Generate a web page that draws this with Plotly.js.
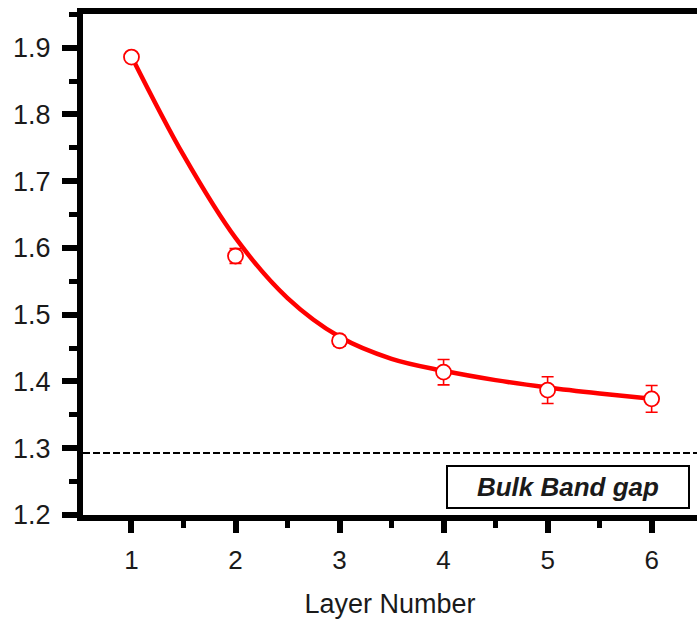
<!DOCTYPE html>
<html>
<head>
<meta charset="utf-8">
<script src="https://cdn.plot.ly/plotly-3.0.1.min.js"></script>
<style>html,body{margin:0;padding:0;background:#fff;}#chart{width:697px;height:628px;}</style>
</head>
<body>
<div id="chart"></div>
<script>
// Measured band gap vs layer number
const layers = [1, 2, 3, 4, 5, 6];
const bandGap = [1.886, 1.588, 1.461, 1.414, 1.387, 1.374];
const bandGapErr = [0.006, 0.011, 0.008, 0.019, 0.020, 0.020];

// Fitted curve
const fitX = [1, 1.5, 2, 2.5, 3, 3.5, 4, 4.5, 5, 5.5, 6];
const fitY = [1.887, 1.739, 1.615, 1.525, 1.467, 1.434, 1.416, 1.402, 1.391, 1.382, 1.374];

const bulkGap = 1.293;
const bulkLabel = 'Bulk Band gap';
const xTitle = 'Layer Number';

const red = '#ff0000';
const font = 'Liberation Sans, Arial, sans-serif';
const txt = '#1a1a1a';

const traces = [
  {
    x: fitX, y: fitY, type: 'scatter', mode: 'lines',
    line: {color: red, width: 4.5, shape: 'spline', smoothing: 1},
    hoverinfo: 'skip', showlegend: false
  },
  {
    x: layers, y: bandGap, type: 'scatter', mode: 'markers',
    marker: {symbol: 'circle', size: 15, color: '#ffffff', line: {color: red, width: 1.8}},
    error_y: {type: 'data', array: bandGapErr, visible: true, color: red, thickness: 1.6, width: 6},
    showlegend: false
  }
];

const layout = {
  width: 697, height: 628,
  margin: {l: 83, r: 0, t: 14, b: 113},
  paper_bgcolor: '#ffffff', plot_bgcolor: '#ffffff',
  showlegend: false,
  font: {family: font, color: txt, size: 26},
  xaxis: {
    range: [0.534, 6.436],
    tickmode: 'linear', tick0: 1, dtick: 1,
    ticks: 'outside', ticklen: 12, tickwidth: 6, tickcolor: '#000000',
    showline: true, linewidth: 6, linecolor: '#000000', mirror: true,
    showgrid: false, zeroline: false,
    tickfont: {family: font, size: 26, color: txt},
    ticklabelstandoff: 5,
    minor: {tickmode: 'linear', tick0: 0.5, dtick: 0.5, ticks: 'outside', ticklen: 7, tickwidth: 5, tickcolor: '#000000', showgrid: false},
    title: {text: xTitle, font: {family: font, size: 27, color: txt}, standoff: 22}
  },
  yaxis: {
    range: [1.2, 1.9505],
    tickmode: 'linear', tick0: 1.2, dtick: 0.1,
    tickformat: '.1f',
    ticks: 'outside', ticklen: 15, tickwidth: 6, tickcolor: '#000000',
    showline: true, linewidth: 6, linecolor: '#000000', mirror: false,
    showgrid: false, zeroline: false,
    tickfont: {family: font, size: 27, color: txt},
    ticklabelstandoff: 6,
    minor: {tickmode: 'linear', tick0: 1.2, dtick: 0.05, ticks: 'outside', ticklen: 8, tickwidth: 5, tickcolor: '#000000', showgrid: false}
  },
  shapes: [
    {type: 'line', xref: 'paper', x0: 0, x1: 1, yref: 'y', y0: bulkGap, y1: bulkGap,
     line: {color: '#000', width: 2, dash: '7px,3px'}}
  ],
  annotations: [
    {
      text: '<b><i>' + bulkLabel + '</i></b>',
      xref: 'x', yref: 'y', x: 5.196, y: 1.242,
      xanchor: 'center', yanchor: 'middle',
      showarrow: false,
      font: {family: font, size: 26, color: txt},
      bgcolor: '#ffffff', bordercolor: '#000', borderwidth: 2, borderpad: 0,
      width: 240, height: 40
    }
  ]
};

Plotly.newPlot('chart', traces, layout, {displayModeBar: false});
</script>
</body>
</html>
